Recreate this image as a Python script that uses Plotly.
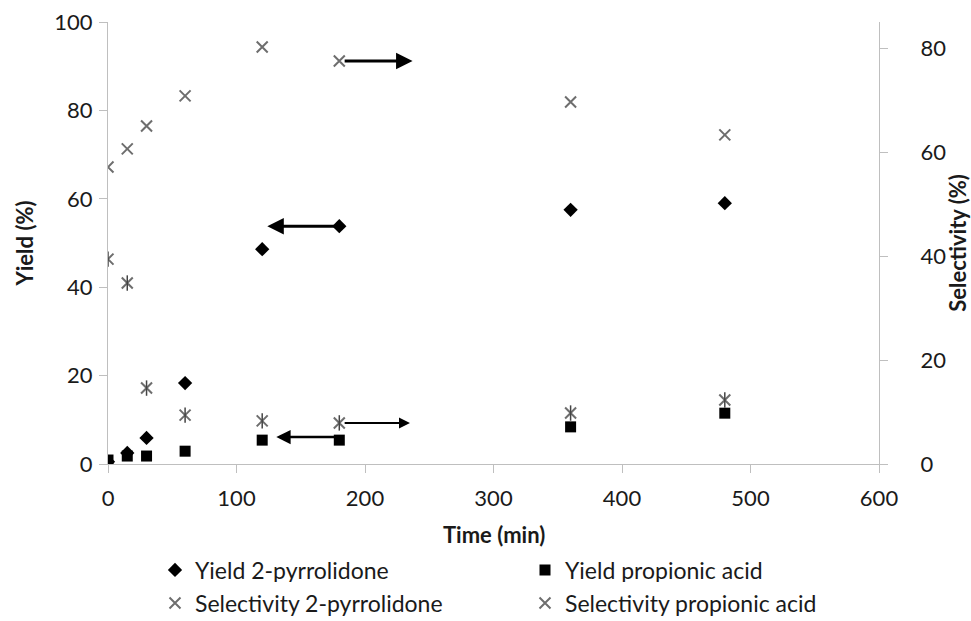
import plotly.graph_objects as go

time_min = [0, 15, 30, 60, 120, 180, 360, 480]
yield_pyrrolidone = [0.5, 2.5, 5.9, 18.3, 48.6, 53.8, 57.5, 59.0]
yield_propionic = [0.9, 1.8, 1.8, 2.9, 5.4, 5.4, 8.4, 11.5]
sel_pyrrolidone = [57.1, 60.6, 65.0, 70.8, 80.2, 77.5, 69.6, 63.3]
sel_propionic = [39.4, 34.8, 14.6, 9.4, 8.3, 7.9, 9.8, 12.3]

FONT = "Lato"
grey = "#6e6e6e"

fig = go.Figure()
fig.add_trace(go.Scatter(x=time_min, y=yield_pyrrolidone, mode="markers", name="Yield 2-pyrrolidone",
                         marker=dict(symbol="diamond", size=11, color="black"), legend="legend"))
fig.add_trace(go.Scatter(x=time_min, y=yield_propionic, mode="markers", name="Yield propionic acid",
                         marker=dict(symbol="square", size=11, color="black"), legend="legend"))
fig.add_trace(go.Scatter(x=time_min, y=sel_pyrrolidone, mode="markers", name="Selectivity 2-pyrrolidone",
                         yaxis="y2", marker=dict(symbol="x-thin-open", size=11, color=grey,
                                                 line=dict(width=2, color=grey)), legend="legend2"))
fig.add_trace(go.Scatter(x=time_min, y=sel_propionic, mode="markers", name="Selectivity propionic acid",
                         yaxis="y2", marker=dict(symbol="x-thin-open", size=11, color=grey,
                                                 line=dict(width=2, color=grey)), legend="legend2"))
fig.add_trace(go.Scatter(x=time_min, y=sel_propionic, mode="markers", showlegend=False, hoverinfo="skip",
                         yaxis="y2", marker=dict(symbol="line-ns-open", size=11, color="#444",
                                                 line=dict(width=1.5, color="#444"))))

# arrows pointing to the relevant axis
arrows = [
    dict(x=237, y=77.5, ax=183, ay=77.5, yref="y2", ayref="y2", w=3),
    dict(x=124, y=53.8, ax=177, ay=53.8, yref="y", ayref="y", w=3),
    dict(x=235, y=7.9, ax=183, ay=7.9, yref="y2", ayref="y2", w=2),
    dict(x=131, y=6.1, ax=178, ay=6.1, yref="y", ayref="y", w=2.6),
]
for a in arrows:
    fig.add_annotation(x=a["x"], y=a["y"], ax=a["ax"], ay=a["ay"], xref="x", axref="x",
                       yref=a["yref"], ayref=a["ayref"], text="", showarrow=True,
                       arrowhead=2, arrowsize=1.1, arrowwidth=a["w"], arrowcolor="black")

fig.add_annotation(text="<b>Time (min)</b>", x=0.5, y=(464 - 534) / 442, xref="paper", yref="paper",
                   xanchor="center", yanchor="middle", showarrow=False,
                   font=dict(family=FONT, size=22, color="#1a1a1a"))

axis_common = dict(showgrid=False, zeroline=False, showline=True, linecolor="#bfbfbf", linewidth=1.3,
                   ticks="outside", ticklen=8, tickcolor="#bfbfbf", automargin=False,
                   tickfont=dict(family=FONT, size=22, color="#1a1a1a"))

fig.update_layout(
    width=971, height=621,
    margin=dict(l=108, r=92, t=22, b=157),
    paper_bgcolor="white", plot_bgcolor="white",
    font=dict(family=FONT, color="#1a1a1a"),
    xaxis=dict(range=[0, 600], dtick=100, ticklabelstandoff=6, **axis_common),
    yaxis=dict(range=[0, 100], dtick=20, ticklabelstandoff=2, **axis_common,
               title=dict(text="<b>Yield (%)</b>", font=dict(family=FONT, size=22), standoff=14)),
    yaxis2=dict(range=[0, 85], dtick=20, overlaying="y", side="right", ticklabelstandoff=28,
                **axis_common,
                title=dict(text="<b>Selectivity (%)</b>", font=dict(family=FONT, size=22), standoff=0)),
    legend=dict(orientation="h", x=155 / 971, xref="container", xanchor="left", y=1 - 570 / 621,
                yref="container", yanchor="middle", entrywidth=325,
                font=dict(family=FONT, size=23), itemwidth=30),
    legend2=dict(orientation="h", x=155 / 971, xref="container", xanchor="left", y=1 - 603 / 621,
                 yref="container", yanchor="middle", entrywidth=325,
                 font=dict(family=FONT, size=23), itemwidth=30),
)

fig.write_html("out.html")
